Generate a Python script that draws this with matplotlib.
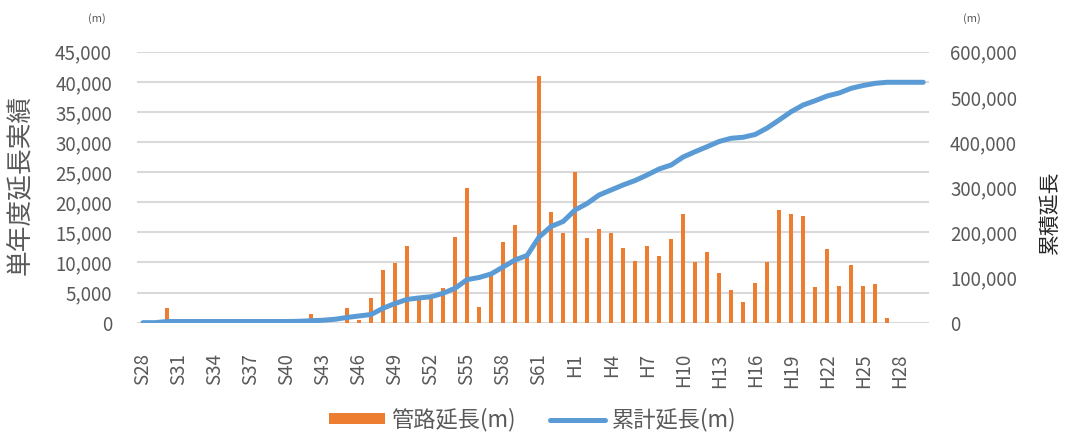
import numpy as np
import matplotlib.pyplot as plt
from matplotlib.ticker import FuncFormatter

plt.rcParams['font.family'] = ['Noto Sans CJK JP', 'DejaVu Sans']

# fiscal years S28..S63, H1..H30
years = [f'S{y}' for y in range(28, 64)] + [f'H{y}' for y in range(1, 31)]

# single-year pipe length (m)
pipe_len = [0, 0, 2500, 0, 0, 0, 0, 0, 0, 0, 0, 0, 0, 0,
            1400, 0, 0, 2500, 500, 4150, 8750, 9850, 12740, 3800, 4000, 5800,
            14300, 22430, 2660, 8000, 13450, 16230, 11000, 40980, 18340, 14850,
            25080, 14120, 15560, 14850, 12360, 10300, 12790, 11130, 13900, 18000,
            10130, 11800, 8200, 5430, 3490, 6650, 10130, 18720, 18000, 17780,
            5980, 12190, 6150, 9580, 6150, 6430, 730, 0, 0, 0]

# cumulative length (m)
cum_len = [0, 0, 2500, 2500, 2500, 2500, 2500, 2500, 2500, 2500, 2500, 2500, 2500, 3000,
           4200, 5300, 7500, 11500, 14800, 18000, 31900, 42500, 51400, 54700, 57300, 65100,
           76200, 95200, 100000, 107800, 123300, 138800, 148800, 189700, 213000, 224000,
           249500, 263900, 282700, 293800, 304900, 314800, 327000, 340300, 349100, 366800,
           378600, 389700, 401200, 408300, 410500, 416700, 431000, 448800, 467200, 482000,
           491500, 501900, 508600, 519000, 525200, 530000, 532300, 532300, 532300, 532300]

gray = '#595959'
fig = plt.figure(figsize=(10.83, 4.36), dpi=100)
ax = fig.add_axes([0.1265, 0.26, 0.7315, 0.6214])
x = np.arange(len(years))

bars = ax.bar(x, pipe_len, width=0.35, color='#ED7D31', zorder=2)
ax.set_xlim(-0.5, len(years) - 0.5)
ax.set_ylim(0, 45000)
ax.set_yticks(range(0, 45001, 5000))
ax.yaxis.set_major_formatter(FuncFormatter(lambda v, p: f'{int(v):,}'))
ax.grid(axis='y', color='#d9d9d9', lw=1.5)
ax.set_axisbelow(True)
for s in ax.spines.values():
    s.set_visible(False)
ax.set_xticks(x[::3])
ax.set_xticklabels(years[::3], rotation=90)
ax.tick_params(length=0, colors=gray, labelsize=13.5)
ax.tick_params(axis='y', pad=18)
ax.tick_params(axis='x', pad=22)

ax2 = ax.twinx()
line, = ax2.plot(x, cum_len, color='#5B9BD5', lw=3.6, solid_capstyle='round', zorder=3)
ax2.set_ylim(0, 600000)
ax2.set_yticks(range(0, 600001, 100000))
ax2.yaxis.set_major_formatter(FuncFormatter(lambda v, p: f'{int(v):,}'))
for s in ax2.spines.values():
    s.set_visible(False)
ax2.tick_params(length=0, colors=gray, labelsize=13.5, pad=15)

fig.text(0.0185, 0.576, '単年度延長実績', rotation=90, ha='center', va='center',
         fontsize=18.5, color=gray)
fig.text(0.9695, 0.514, '累積延長', rotation=90, ha='center', va='center',
         fontsize=15, color='#262626')
fig.text(0.089, 0.958, '(m)', ha='center', va='center', fontsize=8, color=gray)
fig.text(0.897, 0.958, '(m)', ha='center', va='center', fontsize=8, color=gray)

fig.legend([bars, line], ['管路延長(m)', '累計延長(m)'], loc='center',
           bbox_to_anchor=(0.492, 0.037), ncol=2, frameon=False, fontsize=16,
           labelcolor=gray, handlelength=2.5, handleheight=0.4,
           handletextpad=0.3, columnspacing=1.5)

fig.savefig('out.png', dpi=100)
